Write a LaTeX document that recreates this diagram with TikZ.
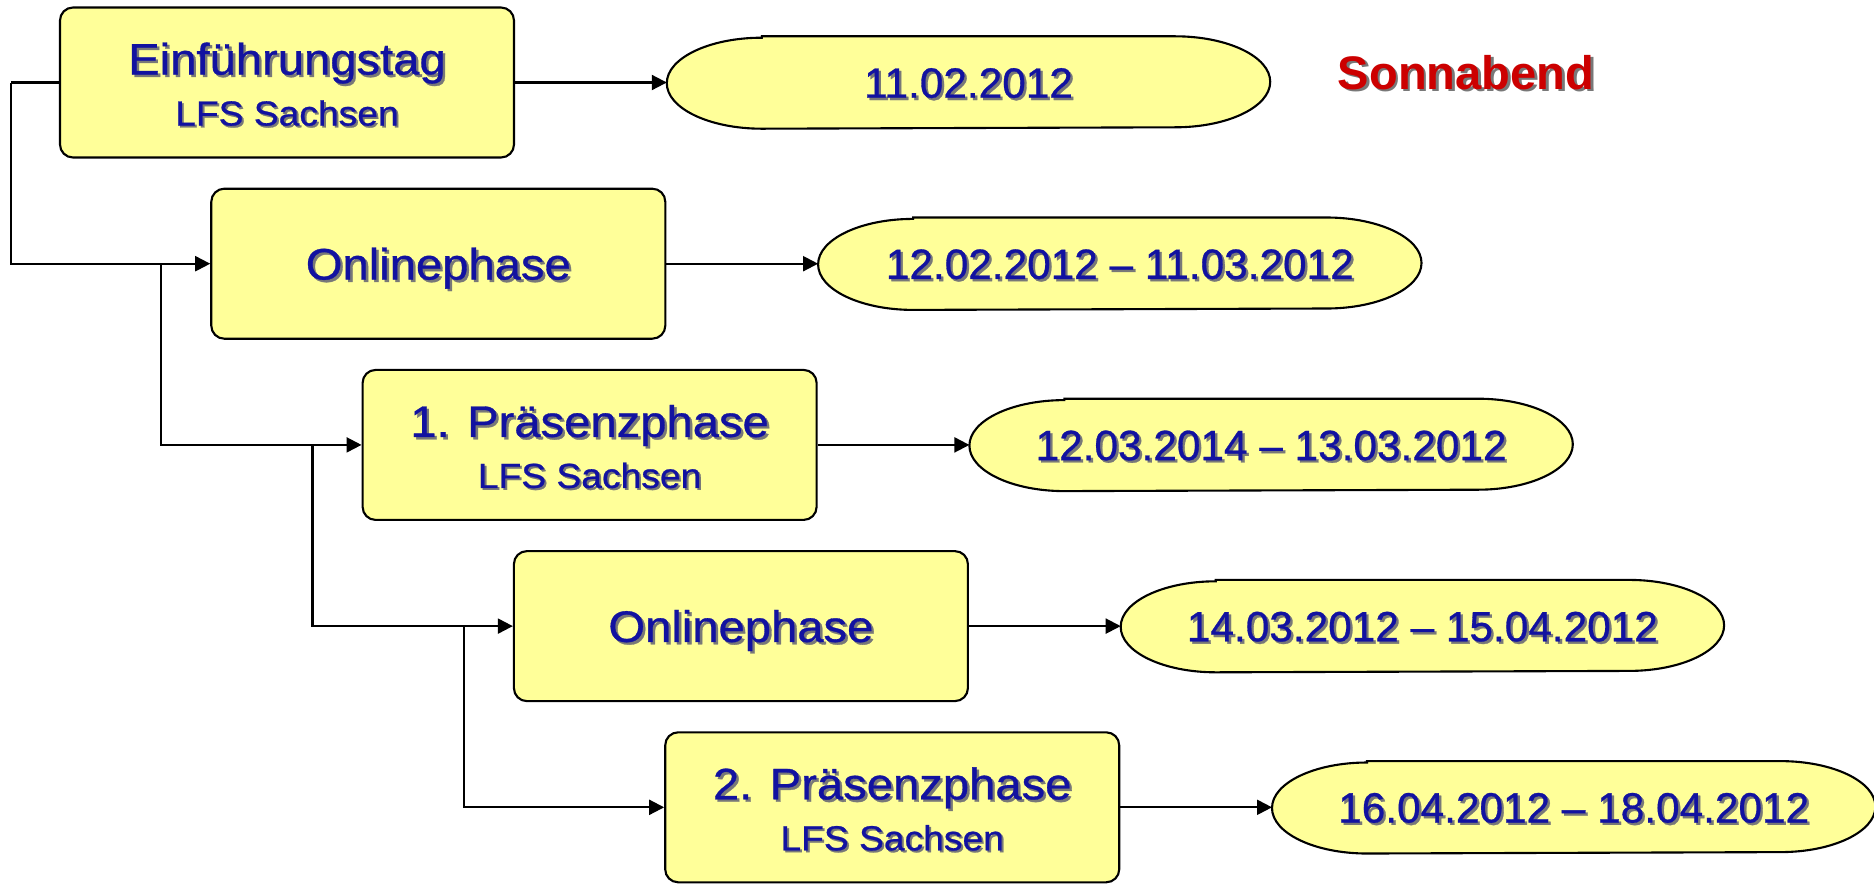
\documentclass[tikz,border=0pt]{standalone}
\usepackage{fontspec}
\setmainfont{Liberation Sans}
\newfontfamily\widefont{Liberation Sans}[FakeStretch=1.07,FakeBold=0.7]
\newfontfamily\datefont{Liberation Sans}[FakeBold=0.7]
\usetikzlibrary{arrows.meta,calc}
\definecolor{boxfill}{RGB}{255,255,153}
\definecolor{txtblue}{RGB}{18,18,160}
\definecolor{shadowgray}{RGB}{120,120,120}
\definecolor{txtred}{RGB}{204,0,0}
\newcommand\shd[1]{\rlap{\kern0.055em\raisebox{-0.055em}{\color{shadowgray}#1}}#1}
\newcommand\drawoval[1]{%
  \draw[ovalpath] ($(#1.north west)+(0.95,0)$) -- ($(#1.north east)+(-0.95,0)$)
    arc[start angle=90,end angle=-90,x radius=0.95cm,y radius=0.455cm]
    -- ($(#1.south west)+(0.95,0)$)
    arc[start angle=270,end angle=90,x radius=0.95cm,y radius=0.455cm] -- cycle;}
\begin{document}
\begin{tikzpicture}[
  phasebox/.style={draw=black, line width=0.6pt, fill=boxfill, rounded corners=0.13cm,
    minimum width=4.54cm, minimum height=1.50cm, inner sep=0pt},
  datebox/.style={draw=none, minimum width=6.02cm, minimum height=0.91cm, inner sep=0pt},
  ovalpath/.style={draw=black, line width=0.6pt, fill=boxfill},
  ttl/.style={font=\widefont\fontsize{12.55}{14}\selectfont, text=txtblue, anchor=base, inner sep=0pt},
  subt/.style={font=\widefont\fontsize{9.9}{11}\selectfont, text=txtblue, anchor=base, inner sep=0pt},
  dat/.style={font=\datefont\fontsize{12.05}{14}\selectfont, text=txtblue, anchor=base, inner sep=0pt},
  note/.style={font=\bfseries\fontsize{13.4}{15}\selectfont, text=txtred, anchor=base, inner sep=0pt},
  conn/.style={line width=0.6pt, -{Triangle[length=1.5mm,width=1.5mm]}},
  plainline/.style={line width=0.6pt}
]
\useasboundingbox (0,0) rectangle (18.74,-8.83);

% phase boxes
\node[phasebox] (b1) at (2.870,-0.825) {};
\node[phasebox] (b2) at (4.383,-2.637) {};
\node[phasebox] (b3) at (5.896,-4.449) {};
\node[phasebox] (b4) at (7.409,-6.261) {};
\node[phasebox] (b5) at (8.922,-8.073) {};

% date ovals
\node[datebox] (e1) at (9.685,-0.825) {};
\node[datebox] (e2) at (11.198,-2.637) {};
\node[datebox] (e3) at (12.711,-4.449) {};
\node[datebox] (e4) at (14.224,-6.261) {};
\node[datebox] (e5) at (15.737,-8.073) {};
\drawoval{e1}\drawoval{e2}\drawoval{e3}\drawoval{e4}\drawoval{e5}

% box texts
\node[ttl]  (t1)  at ($(b1.center)+(0,0.08)$)  {\shd{Einführungstag}};
\node[subt] (s1)  at ($(b1.center)+(0,-0.43)$) {\shd{LFS Sachsen}};
\node[ttl]  (t2)  at ($(b2.center)+(0,-0.158)$) {\shd{Onlinephase}};
\node[ttl]  (t3)  at ($(b3.center)+(0,0.08)$)  {\shd{1. Präsenzphase}};
\node[subt] (s3)  at ($(b3.center)+(0,-0.43)$) {\shd{LFS Sachsen}};
\node[ttl]  (t4)  at ($(b4.center)+(0,-0.158)$) {\shd{Onlinephase}};
\node[ttl]  (t5)  at ($(b5.center)+(0,0.08)$)  {\shd{2. Präsenzphase}};
\node[subt] (s5)  at ($(b5.center)+(0,-0.43)$) {\shd{LFS Sachsen}};

% date texts
\node[dat] (d1) at ($(e1.center)+(0,-0.152)$) {\shd{11.02.2012}};
\node[dat] (d2) at ($(e2.center)+(0,-0.152)$) {\shd{12.02.2012 – 11.03.2012}};
\node[dat] (d3) at ($(e3.center)+(0,-0.152)$) {\shd{12.03.2014 – 13.03.2012}};
\node[dat] (d4) at ($(e4.center)+(0,-0.152)$) {\shd{14.03.2012 – 15.04.2012}};
\node[dat] (d5) at ($(e5.center)+(0,-0.152)$) {\shd{16.04.2012 – 18.04.2012}};

\node[note] (sa) at (14.66,-0.89) {\shd{Sonnabend}};

% connectors box -> date
\draw[conn] (b1.east) -- (e1.west);
\draw[conn] (b2.east) -- (e2.west);
\draw[conn] (b3.east) -- (e3.west);
\draw[conn] (b4.east) -- (e4.west);
\draw[conn] (b5.east) -- (e5.west);

% tree connectors
\coordinate (c0) at ($(b1.west)+(-0.48,0)$);
\coordinate (c1) at ($(b2.west)+(-0.49,0)$);
\coordinate (c2) at ($(b3.west)+(-0.49,0)$);
\coordinate (c3) at ($(b4.west)+(-0.49,0)$);
\draw[plainline] (b1.west) -- (c0);
\draw[conn] (c0) |- (b2.west);
\draw[conn] (c1) |- (b3.west);
\draw[conn] (c2) |- (b4.west);
\draw[conn] (c3) |- (b5.west);
\end{tikzpicture}
\end{document}
